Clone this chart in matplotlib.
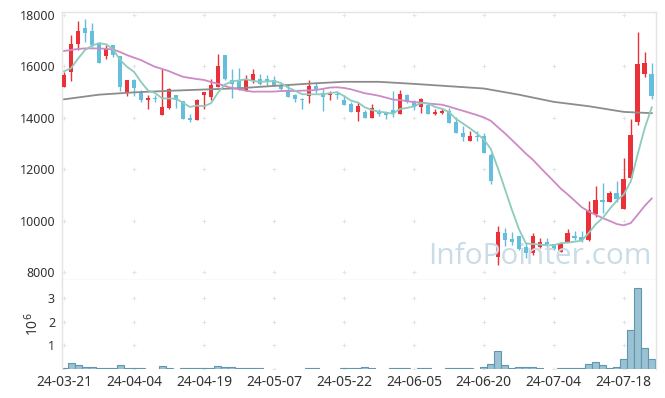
import numpy as np
import pandas as pd
import matplotlib
matplotlib.use("Agg")
import matplotlib.pyplot as plt

plt.rcParams['font.family'] = ['Noto Sans', 'DejaVu Sans']

# daily prices, one entry per trading day (24-03-21 .. 24-07-24)
opens = [15200, 15790, 16890, 17480, 17380, 16890, 16410, 16830, 16400, 15000,
         15460, 15000, 14700, 14770, 14120, 14390, 14900, 14640, 14000, 13920,
         14870, 14810, 15200, 16440, 15490, 15490, 15040, 15430, 15520, 15500,
         15460, 15290, 15070, 14870, 14730, 14850, 15230, 14960, 14890, 14940,
         14700, 14520, 14220, 14220, 13990, 14250, 14180, 14290, 14130, 14900,
         14640, 14420, 14480, 14130, 14180, 14250, 13830, 13410, 13110, 13310,
         13290, 12550, 8570, 9510, 9280, 9400, 8990, 8750, 8960, 9160,
         9090, 8790, 9160, 9400, 9380, 9250, 10260, 10800, 10740, 11090,
         10450, 11670, 13850, 15700, 15700]
highs = [15780, 17240, 17770, 17840, 17670, 16960, 16850, 16850, 16400, 15460,
         15500, 15070, 14900, 14870, 15890, 15170, 14900, 14640, 14160, 14740,
         15000, 15500, 16480, 16440, 15880, 15940, 15680, 15880, 15690, 15660,
         15630, 15360, 15330, 14940, 14780, 15460, 15390, 15130, 15040, 15040,
         14900, 14610, 14610, 14290, 14550, 14330, 14220, 15030, 15070, 14940,
         14680, 14780, 14550, 14350, 14390, 14380, 14050, 13700, 13470, 13470,
         13420, 12620, 9790, 9700, 9540, 9400, 9140, 9510, 9340, 9340,
         9090, 9180, 9670, 9600, 9600, 10760, 11360, 11450, 11150, 11550,
         12450, 13950, 17330, 16550, 16120]
lows = [15180, 15420, 16630, 16960, 16760, 16140, 16270, 16370, 15040, 14850,
        14850, 14610, 14350, 14610, 14120, 14350, 14390, 13960, 13830, 13920,
        14350, 14680, 15200, 15460, 14780, 15070, 15040, 15360, 15260, 15230,
        15230, 15070, 14810, 14610, 14330, 14590, 14960, 14250, 14700, 14720,
        14480, 14220, 13870, 13990, 13990, 14070, 13960, 14030, 14130, 14590,
        14290, 14200, 14130, 14090, 14160, 13790, 13400, 13110, 13110, 13110,
        12620, 11410, 8270, 9010, 9050, 8860, 8530, 8660, 8920, 8920,
        8860, 8790, 9160, 9250, 9180, 9220, 10130, 10280, 10710, 10740,
        10450, 11650, 13720, 15600, 14720]
closes = [15660, 16890, 17380, 17280, 16830, 16140, 16670, 16440, 15200, 15460,
          15170, 14700, 14770, 14730, 14420, 15130, 14680, 13960, 13920, 14700,
          15000, 15260, 16010, 15520, 15300, 15170, 15500, 15690, 15330, 15390,
          15250, 15110, 14810, 14720, 14700, 15230, 15110, 14810, 14940, 14900,
          14480, 14220, 14440, 13990, 14390, 14130, 14090, 14180, 14910, 14610,
          14420, 14740, 14130, 14220, 14260, 13790, 13400, 13240, 13280, 13240,
          12620, 11550, 9540, 9250, 9180, 8880, 8730, 9400, 9160, 9050,
          8880, 9120, 9510, 9340, 9250, 10410, 10800, 10740, 11090, 10840,
          11610, 13330, 16090, 16150, 14850]
# volume, millions of shares
volumes = [0.03, 0.24, 0.16, 0.10, 0.07, 0.03, 0.03, 0.03, 0.16, 0.03,
           0.03, 0.03, 0, 0, 0.11, 0.03, 0, 0.03, 0.03, 0.03,
           0.03, 0.03, 0.11, 0.07, 0.07, 0.03, 0.03, 0.03, 0.03, 0,
           0, 0, 0, 0, 0, 0.03, 0.03, 0, 0, 0,
           0.03, 0.03, 0.03, 0.07, 0.03, 0, 0, 0.03, 0.03, 0.03,
           0, 0.03, 0.03, 0, 0, 0.03, 0.03, 0.03, 0.03, 0,
           0.07, 0.20, 0.75, 0.16, 0.03, 0.07, 0.07, 0.07, 0.03, 0,
           0, 0.03, 0.03, 0.03, 0.03, 0.20, 0.28, 0.16, 0.03, 0.07,
           0.41, 1.64, 3.42, 0.88, 0.41]

# moving averages before enough visible history exists
ma5_head = [15810, 15930, 16300, 16640]
ma20_head = [16600, 16640, 16680, 16700, 16700, 16700, 16680, 16660, 16560, 16440,
             16340, 16245, 16110, 15985, 15900, 15815, 15700, 15595, 15550]
# long moving average, sampled
ma_long_idx = [0, 5, 10, 15, 20, 25, 30, 35, 40, 45, 50, 55, 60, 65, 70, 75, 80, 84]
ma_long_val = [14720, 14900, 14990, 15050, 15100, 15150, 15240, 15330, 15400, 15400,
               15320, 15230, 15140, 14900, 14620, 14450, 14230, 14180]

tick_idx = [0, 10, 20, 30, 40, 50, 60, 70, 80]
tick_labels = ['24-03-21', '24-04-04', '24-04-19', '24-05-07', '24-05-22',
               '24-06-05', '24-06-20', '24-07-04', '24-07-18']

assert len(opens) == len(highs) == len(lows) == len(closes) == len(volumes) == 85

UP = '#ec3038'
DOWN = '#65bfdc'
SPINE = '#e4e4e4'

o = np.array(opens)
h = np.array(highs)
l = np.array(lows)
c = np.array(closes)
v = np.array(volumes)
x = np.arange(len(c))

s = pd.Series(c, dtype=float)
ma5 = s.rolling(5).mean().to_numpy()
ma5[:4] = ma5_head
ma20 = s.rolling(20).mean().to_numpy()
ma20[:19] = ma20_head

fig = plt.figure(figsize=(6.65, 3.98), dpi=100)
ax = fig.add_axes([0.0932, 0.2965, 0.8932, 0.6734])
axv = fig.add_axes([0.0932, 0.0729, 0.8932, 0.2236], sharex=ax)

# watermark
fig.text(0.812, 0.355, 'InfoPointer.com', fontsize=21.5, color='#c9dce7',
         ha='center', va='center', family='Open Sans', zorder=0)

# grid as little plus marks
gx, gy = np.meshgrid(tick_idx, np.arange(8000, 18001, 2000))
ax.scatter(gx.ravel(), gy.ravel(), marker='+', s=9, color='#e4e4e4', lw=0.7, zorder=1)
gx, gy = np.meshgrid(tick_idx, [0, 1, 2, 3])
axv.scatter(gx.ravel(), gy.ravel(), marker='+', s=9, color='#e4e4e4', lw=0.7, zorder=1)

up = c >= o
cols = np.where(up, UP, DOWN)
ax.vlines(x, l, h, colors=cols, lw=1.0, zorder=2)
body = np.maximum(np.abs(c - o), 25)
ax.bar(x, body, bottom=np.minimum(o, c), width=0.66, color=cols, lw=0, zorder=3)

ax.plot(ma_long_idx, ma_long_val, color='#8c8c8c', lw=1.3, zorder=4)
ax.plot(x, ma20, color='#cc8ac6', lw=1.3, zorder=4)
ax.plot(x, ma5, color='#8ccbbd', lw=1.3, zorder=4)

mask = v > 0
axv.bar(x[mask], v[mask], width=1.0, color='#9bc2d3', edgecolor='#5f97b0', lw=0.8, zorder=2)

ax.set_xlim(-0.3, 84.6)
ax.set_ylim(7690, 18117)
ax.set_yticks(np.arange(8000, 18001, 2000))
axv.set_ylim(0, 3.77)
axv.set_yticks([1, 2, 3])
axv.set_xticks(tick_idx)
axv.set_xticklabels(tick_labels)
axv.set_ylabel('10$^6$', fontsize=10, color='#333333', labelpad=4)

for a in (ax, axv):
    a.tick_params(length=0, labelsize=9, colors='#333333', pad=5)
    for sp in a.spines.values():
        sp.set_color(SPINE)
        sp.set_linewidth(1.0)
axv.tick_params(axis='x', labelsize=10, pad=4)
ax.tick_params(axis='x', labelbottom=False)
axv.spines['top'].set_visible(False)
axv.spines['bottom'].set_visible(False)

fig.savefig('out.png', dpi=100)
